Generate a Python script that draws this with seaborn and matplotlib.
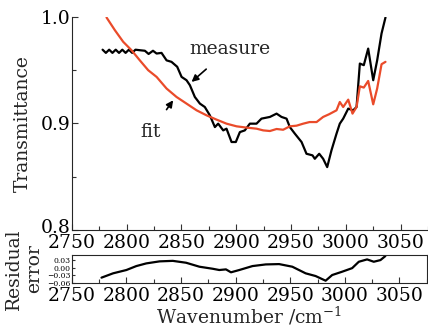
import matplotlib
matplotlib.use("Agg")
import matplotlib.pyplot as plt
from matplotlib.ticker import MultipleLocator
from matplotlib.transforms import ScaledTranslation
import seaborn as sns
import pandas as pd

# measured transmittance (black)
meas_x = [2778, 2781, 2784, 2787, 2790, 2793, 2796, 2799, 2802, 2805, 2808, 2812,
          2816.6, 2820, 2824, 2827.3, 2831.8, 2836.4, 2840.9, 2846.1, 2850.1, 2854.6,
          2857.7, 2862.2, 2866.8, 2871.3, 2875.9, 2880.5, 2883.5, 2888.1, 2891.1,
          2895.7, 2899.6, 2903.3, 2907.8, 2912.4, 2918.5, 2923.0, 2930.7, 2936.8,
          2941.3, 2945.9, 2948.9, 2953.5, 2959.6, 2964.1, 2969.6, 2971.7, 2975.7,
          2979.3, 2983.0, 2986.9, 2991.5, 2994.5, 2997.6, 3002.2, 3006.7, 3009.8,
          3012.8, 3016.4, 3020.4, 3025.0, 3028.6, 3032.6, 3036.2]
meas_y = [0.969, 0.966, 0.969, 0.966, 0.969, 0.966, 0.969, 0.966, 0.969, 0.966, 0.969, 0.9685,
          0.968, 0.965, 0.968, 0.9654, 0.966, 0.959, 0.9576, 0.953, 0.9435, 0.9404,
          0.9357, 0.9247, 0.9185, 0.9153, 0.9075, 0.8965, 0.8997, 0.8934, 0.895,
          0.8825, 0.8825, 0.8918, 0.8934, 0.8997, 0.8997, 0.9044, 0.906, 0.9091,
          0.906, 0.9044, 0.8965, 0.8903, 0.8825, 0.8715, 0.870, 0.8668, 0.8715,
          0.8668, 0.859, 0.8747, 0.8903, 0.8997, 0.9044, 0.9138, 0.9122, 0.9153,
          0.956, 0.9545, 0.970, 0.9404, 0.959, 0.9842, 0.9992]

# fitted transmittance (red)
fit_x = [2781.6, 2789.2, 2796.8, 2804.4, 2812.0, 2819.6, 2827.3, 2836.4, 2845.5, 2854.6,
         2863.8, 2872.9, 2882.0, 2891.1, 2900.3, 2909.4, 2918.5, 2924.6, 2930.7, 2936.8,
         2942.8, 2948.9, 2955.0, 2961.1, 2966.9, 2973.3, 2979.3, 2984.7, 2991.5, 2994.5,
         2997.6, 3002.2, 3006.1, 3009.8, 3012.8, 3016.4, 3020.4, 3025.0, 3028.6, 3032.6,
         3036.2]
fit_y = [0.9992, 0.9873, 0.9764, 0.9685, 0.959, 0.9498, 0.9435, 0.9326, 0.9247, 0.9185,
         0.9122, 0.9075, 0.9035, 0.8997, 0.8972, 0.896, 0.895, 0.8934, 0.8928, 0.8947,
         0.894, 0.8972, 0.8978, 0.8997, 0.9012, 0.9012, 0.906, 0.9085, 0.9122, 0.920,
         0.9153, 0.9222, 0.9091, 0.9153, 0.9347, 0.9335, 0.9397, 0.9178, 0.9326, 0.9554,
         0.9576]

# residual error
res_x = [2777.1, 2787.7, 2799.9, 2809.0, 2818.1, 2830.3, 2842.4, 2854.6, 2866.8, 2878.9,
         2885.0, 2891.1, 2895.7, 2903.3, 2915.4, 2927.6, 2939.8, 2951.9, 2964.1, 2973.2,
         2982.4, 2988.4, 2997.5, 3006.7, 3012.8, 3020.4, 3026.5, 3032.6, 3037.1]
res_y = [-0.039, -0.022, -0.009, 0.0065, 0.017, 0.025, 0.027, 0.0196, 0.004, -0.004,
         -0.009, -0.0065, -0.018, -0.009, 0.0065, 0.013, 0.0143, 0.004, -0.022, -0.0326,
         -0.051, -0.0287, -0.0157, -0.0016, 0.0235, 0.0327, 0.0235, 0.03, 0.0457]

sns.set_style("ticks")
plt.rcParams['font.family'] = ['DejaVu Serif']
plt.rcParams['mathtext.fontset'] = 'dejavuserif'

FS = 13.5

fig = plt.figure(figsize=(4.28, 3.32), dpi=100)
ax = fig.add_axes([0.168, 0.307, 0.832, 0.643])
ax2 = fig.add_axes([0.168, 0.1476, 0.829, 0.0843])

meas = pd.DataFrame({"x": meas_x, "y": meas_y})
fit = pd.DataFrame({"x": fit_x, "y": fit_y})
res = pd.DataFrame({"x": res_x, "y": res_y})

sns.lineplot(data=meas, x="x", y="y", ax=ax, color="black", lw=1.6, sort=False)
sns.lineplot(data=fit, x="x", y="y", ax=ax, color="#ea4b2a", lw=1.6, sort=False)
sns.lineplot(data=res, x="x", y="y", ax=ax2, color="black", lw=1.6, sort=False)

for a in (ax, ax2):
    a.set_xlim(2750, 3075)
    a.xaxis.set_major_locator(MultipleLocator(50))
    a.xaxis.set_minor_locator(MultipleLocator(25))
    a.tick_params(which="both", direction="in", width=0.8, colors="#333333",
                  labelcolor="black")
    a.tick_params(which="major", length=4)
    a.tick_params(which="minor", length=3)
    a.set_xlabel("")
    a.set_ylabel("")

ax.set_ylim(0.8, 1.0)
ax.yaxis.set_major_locator(MultipleLocator(0.1))
ax.yaxis.set_minor_locator(MultipleLocator(0.05))
ax.set_yticks([0.8, 0.9, 1.0], ["0.8", "0.9", "1.0"])
ax.tick_params(axis="y", labelsize=FS, pad=1)
ax.tick_params(axis="x", labelsize=FS, pad=3)
sns.despine(ax=ax)
ax.set_ylabel("Transmittance", fontsize=FS, labelpad=6)

# lift the lowest y label a little, as in the original
lbl = ax.get_yticklabels()[0]
lbl.set_transform(lbl.get_transform() + ScaledTranslation(0, 3 / 72, fig.dpi_scale_trans))

ax2.set_ylim(-0.06, 0.05)
ax2.set_yticks([0.03, 0.0, -0.03, -0.06], ["0.03", "0.00", "\u22120.03", "\u22120.06"])
ax2.yaxis.set_minor_locator(MultipleLocator(0.1))
ax2.tick_params(axis="y", labelsize=5.5, pad=1, length=2)
ax2.tick_params(axis="x", labelsize=FS, pad=3)
ax2.set_xlabel("Wavenumber /cm$^{-1}$", fontsize=FS, labelpad=0)
ax2.set_ylabel("Residual\nerror", fontsize=FS, labelpad=3, linespacing=1.15)
for s in ax2.spines.values():
    s.set_linewidth(0.8)

ax.annotate("measure", xy=(2859.2, 0.9388), xytext=(2894, 0.970),
            ha="center", va="center", fontsize=FS,
            arrowprops=dict(arrowstyle="-|>", color="black", lw=1.2,
                            mutation_scale=10, shrinkA=9, shrinkB=0))
ax.annotate("fit", xy=(2842.4, 0.9216), xytext=(2821.8, 0.8918),
            ha="center", va="center", fontsize=FS,
            arrowprops=dict(arrowstyle="-|>", color="black", lw=1.2,
                            mutation_scale=10, shrinkA=9, shrinkB=0))

fig.savefig("out.png", dpi=100)
